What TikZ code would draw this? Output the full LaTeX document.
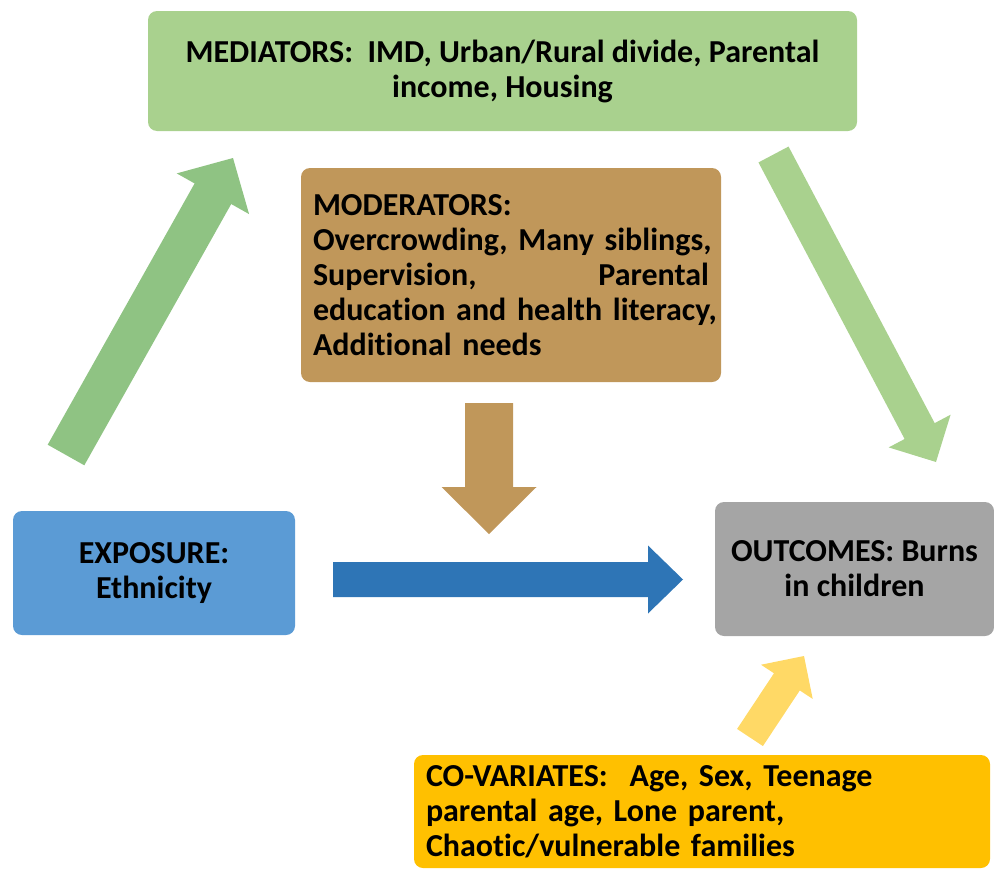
\documentclass[tikz,border=0pt]{standalone}
\usepackage{fontspec}
\setmainfont[Ligatures=NoCommon]{Carlito}
\usetikzlibrary{calc}

\definecolor{medgreen}{HTML}{A9D18E}
\definecolor{arrgreen}{HTML}{8FC383}
\definecolor{modbrown}{HTML}{C0975A}
\definecolor{expblue}{HTML}{5B9BD5}
\definecolor{arrblue}{HTML}{2E75B6}
\definecolor{outgray}{HTML}{A5A5A5}
\definecolor{covyellow}{HTML}{FFC000}
\definecolor{arryellow}{HTML}{FFD966}

% block arrow: #1 colour, #2 tail, #3 tip, #4 shaft half width, #5 head half width, #6 head length
\newcommand\blockarrow[6]{%
  \coordinate (ba-base) at ($(#3)!#6!(#2)$);
  \fill[#1] ($(#2)!#4!90:(#3)$) -- ($(ba-base)!#4!90:(#3)$)
    -- ($(ba-base)!#5!90:(#3)$) -- (#3) -- ($(ba-base)!#5!-90:(#3)$)
    -- ($(ba-base)!#4!-90:(#3)$) -- ($(#2)!#4!-90:(#3)$) -- cycle;
}

\tikzset{
  box/.style={rounded corners=9pt, inner sep=0pt, font=\fontsize{32}{35}\selectfont\bfseries},
}

\begin{document}
\begin{tikzpicture}[x=1pt,y=-1pt]
\path[use as bounding box] (0,0) rectangle (994,870);

% boxes
\node[box, fill=medgreen, minimum width=709pt, minimum height=120pt, align=center]
  (med) at (502.5,71) {MEDIATORS:\ \ IMD, Urban/Rural divide, Parental\\income, Housing};

\node[box, fill=modbrown, minimum width=420pt, minimum height=214pt,
      text width=396pt, align=left]
  (mod) at (511,275) {MODERATORS:\\
  \makebox[396pt][s]{Overcrowding, Many siblings,}\\
  \makebox[396pt][l]{Supervision,\hfill Parental}\\
  \makebox[396pt][s]{education and health literacy,}\\
  Additional needs};

\node[box, fill=expblue, minimum width=282pt, minimum height=124pt, align=center]
  (exp) at (154,573) {EXPOSURE:\\Ethnicity};

\node[box, fill=outgray, minimum width=279pt, minimum height=134pt, align=center]
  (out) at (854.5,569) {OUTCOMES: Burns\\in children};

\node[box, fill=covyellow, minimum width=576pt, minimum height=113pt,
      text width=552pt, align=left]
  (cov) at (702,811.5) {CO-VARIATES:\hspace{22pt}Age, Sex, Teenage\\
  parental age, Lone parent,\\
  Chaotic/vulnerable families};

% arrow end points
\coordinate (a1t) at (66,455);    \coordinate (a1h) at (233,158);
\coordinate (a2t) at (773.5,154.5); \coordinate (a2h) at (936,462);
\coordinate (a3t) at (489,403);   \coordinate (a3h) at (489,534);
\coordinate (a4t) at (333,579.5); \coordinate (a4h) at (683,579.5);
\coordinate (a5t) at (750,737.5); \coordinate (a5h) at (804,656);

% arrows
\blockarrow{arrgreen}{a1t}{a1h}{21pt}{41.5pt}{41pt}
\blockarrow{medgreen}{a2t}{a2h}{17pt}{35pt}{35pt}
\blockarrow{modbrown}{a3t}{a3h}{24pt}{47.5pt}{47pt}
\blockarrow{arrblue}{a4t}{a4h}{17.5pt}{34pt}{35pt}
\blockarrow{arryellow}{a5t}{a5h}{15.5pt}{31pt}{31pt}
\end{tikzpicture}
\end{document}
